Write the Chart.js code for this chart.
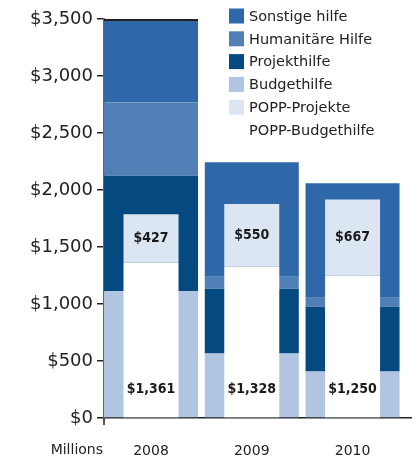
<!DOCTYPE html>
<html><head><meta charset="utf-8">
<script src="https://cdn.jsdelivr.net/npm/chart.js@4/dist/chart.umd.min.js"></script>
<style>html,body{margin:0;padding:0;background:#fff}#wrap{width:419px;height:461px;position:relative}</style>
</head><body><div id="wrap"><canvas id="c"></canvas></div>
<script>
const years = ['2008', '2009', '2010'];
const budgethilfe = [1112, 566, 408];
const projekthilfe = [1012, 568, 568];
const humanitaereHilfe = [641, 105, 79];
const sonstigeHilfe = [735, 1005, 1005];
const poppBudgethilfe = [1361, 1328, 1250];
const poppProjekte = [427, 550, 667];
const yTickValues = [0, 500, 1000, 1500, 2000, 2500, 3000, 3500];
const unitLabel = 'Millions';

const COLORS = {
  sonstige: '#2E68A8', humanitaer: '#5080B5', projekt: '#044A81',
  budget: '#AFC5E2', poppProjekte: '#DCE6F2', poppBudget: '#FFFFFF'
};
const pts = arr => arr.map((v, i) => ({ x: i, y: v }));
const fmt = v => '$' + v.toLocaleString('en-US');

const outer = { stack: 'gesamt', order: 1, barPercentage: 0.933, categoryPercentage: 1, grouped: false, borderWidth: 0 };
const inner = { stack: 'popp', order: 0, barPercentage: 0.546, categoryPercentage: 1, grouped: false, borderWidth: 0 };

const datasets = [
  { label: 'Budgethilfe', data: pts(budgethilfe), backgroundColor: COLORS.budget, ...outer },
  { label: 'Projekthilfe', data: pts(projekthilfe), backgroundColor: COLORS.projekt, ...outer },
  { label: 'Humanitäre Hilfe', data: pts(humanitaereHilfe), backgroundColor: COLORS.humanitaer, ...outer },
  { label: 'Sonstige hilfe', data: pts(sonstigeHilfe), backgroundColor: COLORS.sonstige, ...outer,
    borderColor: '#222', borderSkipped: false,
    borderWidth: ctx => ctx.dataIndex === 0 ? { top: 2, left: 0, right: 0, bottom: 0 } : 0 },
  { label: 'POPP-Budgethilfe', data: pts(poppBudgethilfe), backgroundColor: COLORS.poppBudget, ...inner, labelMode: 'bottom' },
  { label: 'POPP-Projekte', data: pts(poppProjekte), backgroundColor: COLORS.poppProjekte, ...inner, labelMode: 'center' }
];

const legendOrder = ['Sonstige hilfe', 'Humanitäre Hilfe', 'Projekthilfe', 'Budgethilfe', 'POPP-Projekte', 'POPP-Budgethilfe'];

const customPlugin = {
  id: 'custom',
  afterDatasetsDraw(chart, args, opts) {
    const { ctx } = chart;
    const yScale = chart.scales.y;
    ctx.save();
    ctx.font = 'bold 14px "DejaVu Sans Condensed", "DejaVu Sans", sans-serif';
    ctx.fillStyle = '#1a1a1a';
    ctx.textAlign = 'center';
    ctx.textBaseline = 'middle';
    chart.data.datasets.forEach((ds, di) => {
      if (!ds.labelMode) return;
      const meta = chart.getDatasetMeta(di);
      meta.data.forEach((el, i) => {
        const v = ds.data[i].y;
        let y;
        if (ds.labelMode === 'center') y = (el.y + el.base) / 2;
        else y = yScale.getPixelForValue(opts.bottomLabelValue);
        ctx.fillText(fmt(v), el.x, y);
      });
    });
    ctx.restore();
  },
  afterDraw(chart, args, opts) {
    const { ctx, chartArea } = chart;
    ctx.save();
    // axis extension below the baseline
    ctx.strokeStyle = '#222';
    ctx.lineWidth = 1.5;
    ctx.beginPath();
    ctx.moveTo(chartArea.left, chartArea.bottom);
    ctx.lineTo(chartArea.left, chartArea.bottom + 7);
    ctx.stroke();
    // legend
    ctx.font = '14.5px "DejaVu Sans", Verdana, sans-serif';
    ctx.textAlign = 'left';
    ctx.textBaseline = 'middle';
    legendOrder.forEach((name, k) => {
      const ds = chart.data.datasets.find(d => d.label === name);
      const y = opts.legendTop + k * opts.legendRow;
      ctx.fillStyle = ds.backgroundColor;
      ctx.fillRect(opts.legendLeft, y - 7.5, 15, 15);
      ctx.fillStyle = '#222';
      ctx.fillText(name, opts.legendLeft + 20, y + 1);
    });
    // unit label
    const xs = chart.scales.x;
    ctx.font = '14px "DejaVu Sans", Verdana, sans-serif';
    ctx.textAlign = 'right';
    ctx.fillText(unitLabel, chartArea.left - 1, opts.unitY);
    ctx.restore();
  }
};

new Chart(document.getElementById('c'), {
  type: 'bar',
  data: { datasets },
  options: {
    responsive: true,
    maintainAspectRatio: false,
    animation: false,
    layout: { padding: { left: 0, top: 19, right: 8, bottom: 0 } },
    plugins: {
      legend: { display: false },
      tooltip: { enabled: false },
      custom: { bottomLabelValue: 250, legendLeft: 229, legendTop: 16, legendRow: 22.8, unitY: 450 }
    },
    scales: {
      x: {
        type: 'linear', min: -0.4665, max: 2.58, offset: false,
        afterBuildTicks: s => { s.ticks = years.map((_, i) => ({ value: i })); },
        afterFit: s => { s.height = 43; },
        ticks: {
          callback: v => years[v] ?? '',
          autoSkip: false, maxRotation: 0, padding: 25,
          color: '#222', font: { family: '"DejaVu Sans", Verdana, sans-serif', size: 14 }
        },
        grid: { drawOnChartArea: false, drawTicks: false },
        border: { color: '#222', width: 1.5 }
      },
      y: {
        stacked: true, min: 0, max: 3500, z: 1,
        afterBuildTicks: s => { s.ticks = yTickValues.map(v => ({ value: v })); },
        afterFit: s => { s.width = 104; },
        ticks: {
          callback: v => fmt(v), padding: 4, color: '#222',
          font: { family: '"DejaVu Sans", Verdana, sans-serif', size: 18 }
        },
        grid: { drawOnChartArea: false, drawTicks: true, tickLength: 7, color: '#222', lineWidth: 1.5 },
        border: { color: '#666', width: 2 }
      }
    }
  },
  plugins: [customPlugin]
});
</script>
</body></html>
